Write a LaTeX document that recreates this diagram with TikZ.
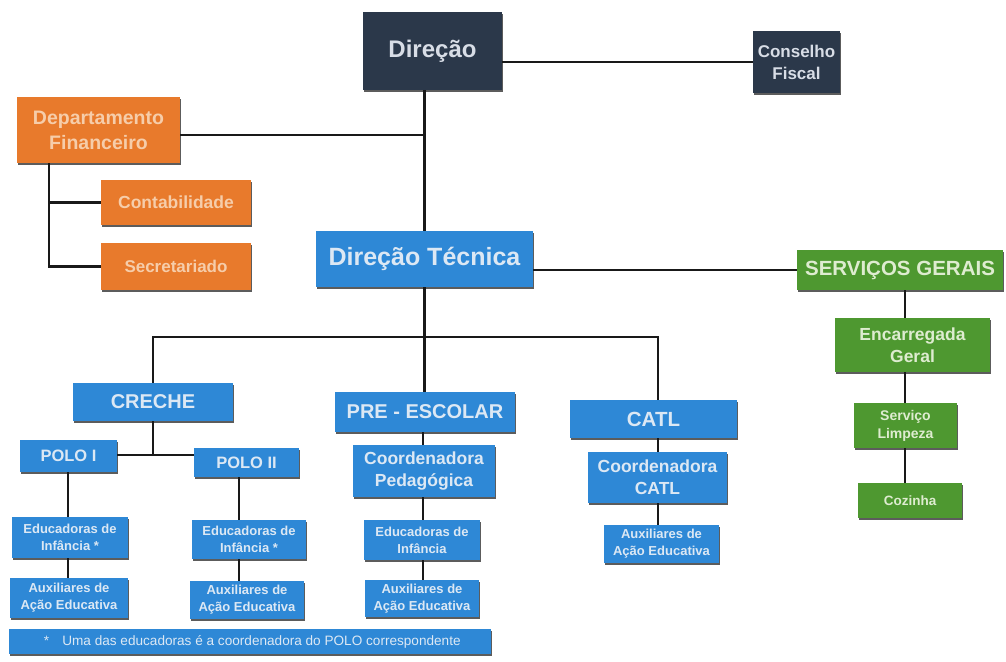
\documentclass[tikz,border=0pt]{standalone}
\usepackage{fontspec}
\setmainfont{Liberation Sans}
\usetikzlibrary{shadows}
\definecolor{navy}{RGB}{43,56,74}
\definecolor{orng}{RGB}{232,122,44}
\definecolor{blu}{RGB}{46,136,214}
\definecolor{grn}{RGB}{78,152,48}
\definecolor{navytxt}{RGB}{216,221,230}
\definecolor{orngtxt}{RGB}{246,205,170}
\definecolor{blutxt}{RGB}{220,232,244}
\definecolor{grntxt}{RGB}{222,236,208}
\tikzset{
  base/.style={rectangle, inner sep=0pt, align=center, font=\bfseries,
    drop shadow={shadow xshift=0.6pt, shadow yshift=-1.6pt, fill=black!85, opacity=0.75}},
  navybox/.style={base, fill=navy, text=navytxt},
  orngbox/.style={base, fill=orng, text=orngtxt},
  blubox/.style={base, fill=blu, text=blutxt},
  grnbox/.style={base, fill=grn, text=grntxt},
  link/.style={draw=black!90, line width=2.6pt},
}
\newcommand{\fs}[2]{\fontsize{#1}{#2}\selectfont}
\begin{document}
\begin{tikzpicture}[x=1pt,y=-1pt]
\useasboundingbox[fill=white] (0,0) rectangle (1006,661);
% top
\node[navybox, minimum width=139pt, minimum height=78pt, font=\bfseries\fs{24}{28}] (dir) at (432.5,51) {Direção};
\node[navybox, minimum width=87pt, minimum height=62pt, font=\bfseries\fs{17}{22}] (cf) at (796.5,62) {Conselho\\Fiscal};
% finance
\node[orngbox, minimum width=163pt, minimum height=66pt, font=\bfseries\fs{19.5}{25}] (df) at (98.5,130) {Departamento\\Financeiro};
\node[orngbox, minimum width=150pt, minimum height=45pt, font=\bfseries\fs{17.5}{20}] (cont) at (176,202.5) {Contabilidade};
\node[orngbox, minimum width=150pt, minimum height=47pt, font=\bfseries\fs{17}{20}] (sec) at (176,266.5) {Secretariado};
% direcao tecnica
\node[blubox, minimum width=217pt, minimum height=56pt, font=\bfseries\fs{25}{29}] (dt) at (424.5,259) {Direção Técnica};
% servicos gerais
\node[grnbox, minimum width=206pt, minimum height=40pt, font=\bfseries\fs{20.5}{23}] (sg) at (900,270) {SERVIÇOS GERAIS};
\node[grnbox, minimum width=155pt, minimum height=54pt, font=\bfseries\fs{17.5}{22}] (enc) at (912.5,345) {Encarregada\\Geral};
\node[grnbox, minimum width=103pt, minimum height=45pt, font=\bfseries\fs{14}{18}] (limp) at (905.5,425.5) {Serviço\\Limpeza};
\node[grnbox, minimum width=104pt, minimum height=35pt, font=\bfseries\fs{13.5}{16}] (coz) at (910,500.5) {Cozinha};
% level 3
\node[blubox, minimum width=160pt, minimum height=38pt, font=\bfseries\fs{20}{23}] (creche) at (153,402) {CRECHE};
\node[blubox, minimum width=180pt, minimum height=40pt, font=\bfseries\fs{20}{23}] (pre) at (425,412) {PRE - ESCOLAR};
\node[blubox, minimum width=167pt, minimum height=38pt, font=\bfseries\fs{20.5}{23}] (catl) at (653.5,419) {CATL};
% creche
\node[blubox, minimum width=97pt, minimum height=32pt, font=\bfseries\fs{16.5}{19}] (polo1) at (68.5,456) {POLO I};
\node[blubox, minimum width=105pt, minimum height=29pt, font=\bfseries\fs{16.5}{19}] (polo2) at (246.5,462.5) {POLO II};
\node[blubox, minimum width=116pt, minimum height=41pt, font=\bfseries\fs{13}{17}] (edu1) at (70,537.5) {Educadoras de\\Infância *};
\node[blubox, minimum width=118pt, minimum height=40pt, font=\bfseries\fs{13}{17}] (aux1) at (69,598) {Auxiliares de\\Ação Educativa};
\node[blubox, minimum width=114pt, minimum height=39pt, font=\bfseries\fs{13}{17}] (edu2) at (249,539.5) {Educadoras de\\Infância *};
\node[blubox, minimum width=114pt, minimum height=38pt, font=\bfseries\fs{13}{17}] (aux2) at (247,600) {Auxiliares de\\Ação Educativa};
% pre-escolar
\node[blubox, minimum width=142pt, minimum height=52pt, font=\bfseries\fs{17.5}{22}] (cped) at (424,471) {Coordenadora\\Pedagógica};
\node[blubox, minimum width=116pt, minimum height=40pt, font=\bfseries\fs{13}{17}] (edupe) at (422,540) {Educadoras de\\Infância};
\node[blubox, minimum width=114pt, minimum height=37pt, font=\bfseries\fs{13}{17}] (auxpe) at (422,598.5) {Auxiliares de\\Ação Educativa};
% catl
\node[blubox, minimum width=139pt, minimum height=51pt, font=\bfseries\fs{17.5}{22}] (ccatl) at (657.5,477.5) {Coordenadora\\CATL};
\node[blubox, minimum width=115pt, minimum height=38pt, font=\bfseries\fs{13}{17}] (auxcatl) at (661.5,544) {Auxiliares de\\Ação Educativa};
% footnote
\node[blubox, minimum width=482pt, minimum height=25pt, font=\fs{13.6}{15}] (note) at (250,641.5) {\makebox[482pt][l]{\hspace*{35pt}*\hspace{13pt}Uma das educadoras é a coordenadora do POLO correspondente}};
% coordinates
\coordinate (dfx) at (49,0);
\coordinate (dfy) at (0,135);
\coordinate (barR) at (658,337);
\coordinate (pj) at (153,455);
\coordinate (p1x) at (68,0);
\coordinate (p2x) at (239,0);
\coordinate (pex) at (423,0);
\coordinate (cax) at (658,0);
\coordinate (sgx) at (905,0);
% connectors
\draw[link] (dir.east |- cf.west) -- (cf.west);
\draw[link] (dir.south -| dt.north) -- (dt.north);
\draw[link] (df.east |- dfy) -- (dt.north |- dfy);
\draw[link] (df.south -| dfx) |- (cont.west);
\draw[link] (df.south -| dfx) |- (sec.west);
\draw[link] (dt.east |- sg.west) -- (sg.west);
\draw[link] (sg.south -| sgx) -- (enc.north -| sgx);
\draw[link] (enc.south -| sgx) -- (limp.north -| sgx);
\draw[link] (limp.south -| sgx) -- (coz.north -| sgx);
\draw[link] (dt.south) -- (dt.south |- pre.north);
\draw[link] (creche.north) |- (barR) -- (barR |- catl.north);
\draw[link] (creche.south) -- (pj);
\draw[link] (polo1.east |- pj) -- (polo2.west |- pj);
\draw[link] (polo1.south -| p1x) -- (edu1.north -| p1x);
\draw[link] (edu1.south -| p1x) -- (aux1.north -| p1x);
\draw[link] (polo2.south -| p2x) -- (edu2.north -| p2x);
\draw[link] (edu2.south -| p2x) -- (aux2.north -| p2x);
\draw[link] (pre.south -| pex) -- (cped.north -| pex);
\draw[link] (cped.south -| pex) -- (edupe.north -| pex);
\draw[link] (edupe.south -| pex) -- (auxpe.north -| pex);
\draw[link] (catl.south -| cax) -- (ccatl.north -| cax);
\draw[link] (ccatl.south -| cax) -- (auxcatl.north -| cax);
\end{tikzpicture}
\end{document}
